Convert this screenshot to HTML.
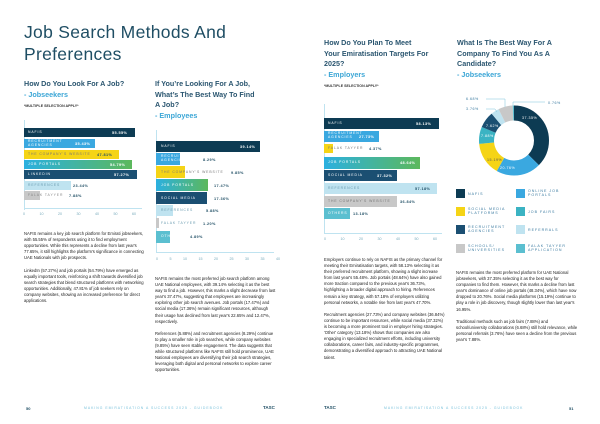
<!DOCTYPE html>
<html><head><meta charset="utf-8"><style>
*{margin:0;padding:0;box-sizing:border-box}
body{width:600px;height:424px;background:#fff;position:relative;overflow:hidden;font-family:"Liberation Sans",sans-serif;color:#1f4e64}
.a{position:absolute;white-space:nowrap}
.t{font-size:17.5px;color:#1f4e64;letter-spacing:0.3px}
.h{font-size:7.2px;font-weight:bold;color:#2b5670;line-height:10.6px}
.h b{color:#3ba6d6}
.m{font-size:3.6px;font-weight:bold;color:#333}
.bar{position:absolute;height:9px}
.bl{position:absolute;font-size:3.4px;letter-spacing:0.9px;color:#fff;line-height:3.8px;white-space:nowrap}
.bv{position:absolute;font-size:3.8px;font-weight:bold;color:#1f4e64;letter-spacing:0.4px;white-space:nowrap}
.in{color:#fff}
.p{position:absolute;font-size:4.2px;line-height:6.1px;color:#222;white-space:normal}
.tk{position:absolute;font-size:3.6px;color:#7ab;}
.lg{position:absolute;font-size:3.6px;letter-spacing:1px;color:#3a7aa0;line-height:4.4px}
.sw{position:absolute;width:9px;height:9px}
.ft{position:absolute;font-size:3.4px;letter-spacing:1px;color:#7cc3dc}
</style></head><body>

<div class="a t" style="left:24px;top:22px">Job Search Methods And</div>
<div class="a t" style="left:24px;top:44px">Preferences</div>

<div class="a h" style="left:24px;top:79px">How Do You Look For A Job?<br><b>- Jobseekers</b></div>
<div class="a m" style="left:24px;top:104px">*MULTIPLE SELECTION APPLY*</div>

<div class="a h" style="left:155px;top:79px">If You’re Looking For A Job,<br>What’s The Best Way To Find<br>A Job?<br><b>- Employees</b></div>

<div class="a h" style="left:324px;top:38px">How Do You Plan To Meet<br>Your Emiratisation Targets For<br>2025?<br><b>- Employers</b></div>
<div class="a m" style="left:324px;top:84px">*MULTIPLE SELECTION APPLY*</div>

<div class="a h" style="left:457px;top:38px">What Is The Best Way For A<br>Company To Find You As A<br>Candidate?<br><b>- Jobseekers</b></div>

<!-- chart 1 -->
<div class="a" style="left:24px;top:120px;width:1px;height:90px;background:#bfe3f0"></div>
<div class="bar" style="left:24px;top:128px;width:111px;background:#0d3b53"></div>
<div class="bl" style="left:28px;top:131px">NAFIS</div><div class="bv in" style="left:112px;top:131px">55.55%</div>
<div class="bar" style="left:24px;top:139px;width:71px;background:#3aa8e0"></div>
<div class="bl" style="left:28px;top:140px">RECRUITMENT<br>AGENCIES</div><div class="bv in" style="left:75px;top:142px">35.43%</div>
<div class="bar" style="left:24px;top:150px;width:95px;background:#f5d416"></div>
<div class="bl" style="left:28px;top:153px;color:#777">THE COMPANY'S WEBSITE</div><div class="bv" style="left:97px;top:153px">47.81%</div>
<div class="bar" style="left:24px;top:160px;width:108px;background:linear-gradient(90deg,#2bb0e0,#5cb85c)"></div>
<div class="bl" style="left:28px;top:163px">JOB PORTALS</div><div class="bv in" style="left:110px;top:163px">54.79%</div>
<div class="bar" style="left:24px;top:170px;width:113px;background:#1b4f72"></div>
<div class="bl" style="left:28px;top:173px">LINKEDIN</div><div class="bv in" style="left:114px;top:173px">57.27%</div>
<div class="bar" style="left:24px;top:181px;width:47px;background:#bfe3f0"></div>
<div class="bl" style="left:28px;top:184px;color:#6a9bb0">REFERENCES</div><div class="bv" style="left:73px;top:184px">23.44%</div>
<div class="bar" style="left:24px;top:191px;width:16px;background:#c8c8c8"></div>
<div class="bl" style="left:28px;top:194px;color:#888">FALAK TAYYER</div><div class="bv" style="left:69px;top:194px">7.88%</div>
<div class="a" style="left:24px;top:208px;width:118px;height:1px;background:#bfe3f0"></div>
<div class="tk" style="left:23px;top:212px;word-spacing:13.5px">0 10 20 30 40 50 60</div>

<!-- chart 2 -->
<div class="a" style="left:156px;top:130px;width:1px;height:123px;background:#bfe3f0"></div>
<div class="bar" style="left:156px;top:141px;width:104px;height:11px;background:#0d3b53"></div>
<div class="bl" style="left:161px;top:145px">NAFIS</div><div class="bv in" style="left:240px;top:145px">39.14%</div>
<div class="bar" style="left:156px;top:153px;width:24px;height:12px;background:#3aa8e0"></div>
<div class="bl" style="left:161px;top:155px">RECRUITMENT<br>AGENCIES</div><div class="bv" style="left:203px;top:158px">8.29%</div>
<div class="bar" style="left:156px;top:166px;width:29px;height:12px;background:#f5d416"></div>
<div class="bl" style="left:161px;top:171px;color:#777">THE COMPANY'S WEBSITE</div><div class="bv" style="left:231px;top:171px">9.85%</div>
<div class="bar" style="left:156px;top:179px;width:52px;height:12px;background:linear-gradient(90deg,#2bb0e0,#5cb85c)"></div>
<div class="bl" style="left:161px;top:184px">JOB PORTALS</div><div class="bv" style="left:214px;top:184px">17.47%</div>
<div class="bar" style="left:156px;top:192px;width:51px;height:12px;background:#1b4f72"></div>
<div class="bl" style="left:161px;top:197px">SOCIAL MEDIA</div><div class="bv" style="left:214px;top:197px">17.36%</div>
<div class="bar" style="left:156px;top:205px;width:17px;height:11px;background:#bfe3f0"></div>
<div class="bl" style="left:161px;top:209px;color:#6a9bb0">REFERENCES</div><div class="bv" style="left:206px;top:209px">5.88%</div>
<div class="bar" style="left:156px;top:218px;width:3px;height:10px;background:#c8c8c8"></div>
<div class="bl" style="left:161px;top:222px;color:#6a9bb0">FALAK TAYYER</div><div class="bv" style="left:203px;top:222px">1.20%</div>
<div class="bar" style="left:156px;top:231px;width:14px;height:12px;background:#5bbfd0"></div>
<div class="bl" style="left:161px;top:235px">OTHERS</div><div class="bv" style="left:190px;top:235px">4.89%</div>
<div class="a" style="left:156px;top:252px;width:118px;height:1px;background:#bfe3f0"></div>
<div class="tk" style="left:156px;top:257px;word-spacing:10.5px">0 5 10 15 20 25 30 35 40</div>

<!-- chart 3 -->
<div class="a" style="left:324px;top:104px;width:1px;height:130px;background:#bfe3f0"></div>
<div class="bar" style="left:324px;top:118px;width:115px;height:11px;background:#0d3b53"></div>
<div class="bl" style="left:328px;top:122px">NAFIS</div><div class="bv in" style="left:416px;top:122px">58.13%</div>
<div class="bar" style="left:324px;top:131px;width:55px;height:11px;background:#3aa8e0"></div>
<div class="bl" style="left:328px;top:132px">RECRUITMENT<br>AGENCIES</div><div class="bv in" style="left:359px;top:135px">27.73%</div>
<div class="bar" style="left:324px;top:144px;width:9px;height:9px;background:#f5d416"></div>
<div class="bl" style="left:328px;top:147px;color:#777">FALAK TAYYER</div><div class="bv" style="left:369px;top:147px">4.37%</div>
<div class="bar" style="left:324px;top:157px;width:96px;height:12px;background:linear-gradient(90deg,#2bb0e0,#5cb85c)"></div>
<div class="bl" style="left:328px;top:161px">JOB PORTALS</div><div class="bv in" style="left:400px;top:161px">48.64%</div>
<div class="bar" style="left:324px;top:170px;width:73px;height:11px;background:#1b4f72"></div>
<div class="bl" style="left:328px;top:174px">SOCIAL MEDIA</div><div class="bv in" style="left:377px;top:174px">37.32%</div>
<div class="bar" style="left:324px;top:183px;width:113px;height:11px;background:#bfe3f0"></div>
<div class="bl" style="left:328px;top:187px;color:#6a9bb0">REFERENCES</div><div class="bv" style="left:415px;top:187px">57.18%</div>
<div class="bar" style="left:324px;top:196px;width:73px;height:11px;background:#c8c8c8"></div>
<div class="bl" style="left:328px;top:200px;color:#777">THE COMPANY'S WEBSITE</div><div class="bv" style="left:400px;top:200px">36.84%</div>
<div class="bar" style="left:324px;top:208px;width:26px;height:11px;background:#5bbfd0"></div>
<div class="bl" style="left:328px;top:212px">OTHERS</div><div class="bv" style="left:353px;top:212px">13.18%</div>
<div class="a" style="left:324px;top:233px;width:118px;height:1px;background:#bfe3f0"></div>
<div class="tk" style="left:324px;top:237px;word-spacing:13.5px">0 10 20 30 40 50 60</div>

<!-- donut -->
<svg class="a" style="left:0;top:0" width="600" height="424">
<g transform="rotate(-90 514 140.5)" fill="none" stroke-width="15">
<circle cx="514" cy="140.5" r="27.5" stroke="#0d3b53" stroke-dasharray="64.54 200" stroke-dashoffset="0"/>
<circle cx="514" cy="140.5" r="27.5" stroke="#3aa8e0" stroke-dasharray="35.87 200" stroke-dashoffset="-64.54"/>
<circle cx="514" cy="140.5" r="27.5" stroke="#f5d416" stroke-dasharray="26.25 200" stroke-dashoffset="-100.41"/>
<circle cx="514" cy="140.5" r="27.5" stroke="#3bb3c3" stroke-dasharray="13.62 200" stroke-dashoffset="-126.66"/>
<circle cx="514" cy="140.5" r="27.5" stroke="#1b4f72" stroke-dasharray="13.17 200" stroke-dashoffset="-140.28"/>
<circle cx="514" cy="140.5" r="27.5" stroke="#bfe3f0" stroke-dasharray="6.5 200" stroke-dashoffset="-153.45"/>
<circle cx="514" cy="140.5" r="27.5" stroke="#c8c8c8" stroke-dasharray="11.54 200" stroke-dashoffset="-159.95"/>
<circle cx="514" cy="140.5" r="27.5" stroke="#5bbfd0" stroke-dasharray="1.31 200" stroke-dashoffset="-171.49"/>
</g>
<polyline points="486,99 505,99 505,107" fill="none" stroke="#7cc3dc" stroke-width="0.5"/>
<polyline points="486,109 495,109 497,112" fill="none" stroke="#7cc3dc" stroke-width="0.5"/>
<polyline points="545,102 513,102 513,106" fill="none" stroke="#7cc3dc" stroke-width="0.5"/>
<g font-family="Liberation Sans" font-size="3.6" letter-spacing="0.5">
<text x="466" y="100" fill="#3a7aa0">6.68%</text>
<text x="466" y="110" fill="#3a7aa0">3.76%</text>
<text x="548" y="104" fill="#3a7aa0">0.76%</text>
<text x="522" y="119" fill="#fff">37.35%</text>
<text x="500" y="169" fill="#fff">20.76%</text>
<text x="487" y="161" fill="#555">15.19%</text>
<text x="481" y="137" fill="#fff">7.88%</text>
<text x="486" y="127" fill="#fff">7.62%</text>
</g>
</svg>

<div class="sw" style="left:456px;top:189px;background:#0d3b53"></div><div class="lg" style="left:468px;top:192px">NAFIS</div>
<div class="sw" style="left:516px;top:189px;background:#3aa8e0"></div><div class="lg" style="left:528px;top:189px">ONLINE JOB<br>PORTALS</div>
<div class="sw" style="left:456px;top:207px;background:#f5d416"></div><div class="lg" style="left:468px;top:207px">SOCIAL MEDIA<br>PLATFORMS</div>
<div class="sw" style="left:516px;top:207px;background:#3bb3c3"></div><div class="lg" style="left:528px;top:210px">JOB FAIRS</div>
<div class="sw" style="left:456px;top:225px;background:#1b4f72"></div><div class="lg" style="left:468px;top:225px">RECRUITMENT<br>AGENCIES</div>
<div class="sw" style="left:516px;top:225px;background:#bfe3f0"></div><div class="lg" style="left:528px;top:228px">REFERRALS</div>
<div class="sw" style="left:456px;top:244px;background:#c8c8c8"></div><div class="lg" style="left:468px;top:244px">SCHOOLS/<br>UNIVERSITIES</div>
<div class="sw" style="left:516px;top:244px;background:#5bbfd0"></div><div class="lg" style="left:528px;top:244px">FALAK TAYYER<br>APPLICATION</div>

<!-- paragraphs -->
<div class="p" style="left:24px;top:231px;width:122px">NAFIS remains a key job search platform for Emirati jobseekers, with 55.55% of respondents using it to find employment opportunities. While this represents a decline from last year's 77.65%, it still highlights the platform's significance in connecting UAE Nationals with job prospects.<br><br>LinkedIn (57.27%) and job portals (54.79%) have emerged as equally important tools, reinforcing a shift towards diversified job search strategies that blend structured platforms with networking opportunities. Additionally, 47.81% of job seekers rely on company websites, showing an increased preference for direct applications.</div>
<div class="p" style="left:155px;top:276px;width:122px">NAFIS remains the most preferred job search platform among UAE National employees, with 39.14% selecting it as the best way to find a job. However, this marks a slight decrease from last year's 37.47%, suggesting that employees are increasingly exploring other job search avenues. Job portals (17.47%) and social media (17.36%) remain significant resources, although their usage has declined from last year's 22.65% and 12.47%, respectively.<br><br>References (5.88%) and recruitment agencies (8.29%) continue to play a smaller role in job searches, while company websites (9.85%) have seen stable engagement. The data suggests that while structured platforms like NAFIS still hold prominence, UAE National employees are diversifying their job search strategies, leveraging both digital and personal networks to explore career opportunities.</div>
<div class="p" style="left:324px;top:257px;width:122px">Employers continue to rely on NAFIS as the primary channel for meeting their Emiratisation targets, with 58.13% selecting it as their preferred recruitment platform, showing a slight increase from last year's 55.48%. Job portals (48.64%) have also gained more traction compared to the previous year's 36.73%, highlighting a broader digital approach to hiring. References remain a key strategy, with 57.18% of employers utilizing personal networks, a notable rise from last year's 47.70%.<br><br>Recruitment agencies (27.73%) and company websites (36.84%) continue to be important resources, while social media (37.32%) is becoming a more prominent tool in employer hiring strategies. 'Other' category (13.18%) shows that companies are also engaging in specialized recruitment efforts, including university collaborations, career fairs, and industry-specific programmes, demonstrating a diversified approach to attracting UAE National talent.</div>
<div class="p" style="left:456px;top:270px;width:122px">NAFIS remains the most preferred platform for UAE National jobseekers, with 37.35% selecting it as the best way for companies to find them. However, this marks a decline from last year's dominance of online job portals (48.34%), which have now dropped to 20.76%. Social media platforms (15.19%) continue to play a role in job discovery, though slightly lower than last year's 16.95%.<br><br>Traditional methods such as job fairs (7.88%) and school/university collaborations (6.68%) still hold relevance, while personal referrals (3.76%) have seen a decline from the previous year's 7.88%.</div>

<!-- footer -->
<div class="a" style="left:26px;top:406px;font-size:4px;font-weight:bold;color:#1f4e64">50</div>
<div class="ft" style="left:84px;top:406px">MAKING EMIRATISATION A SUCCESS 2025 - GUIDEBOOK</div>
<div class="a" style="left:263px;top:405px;font-size:4.5px;font-weight:bold;color:#1f4e64">TASC</div>
<div class="a" style="left:324px;top:405px;font-size:4.5px;font-weight:bold;color:#1f4e64">TASC</div>
<div class="ft" style="left:384px;top:406px">MAKING EMIRATISATION A SUCCESS 2025 - GUIDEBOOK</div>
<div class="a" style="left:569px;top:406px;font-size:4px;font-weight:bold;color:#1f4e64">51</div>
</body></html>
